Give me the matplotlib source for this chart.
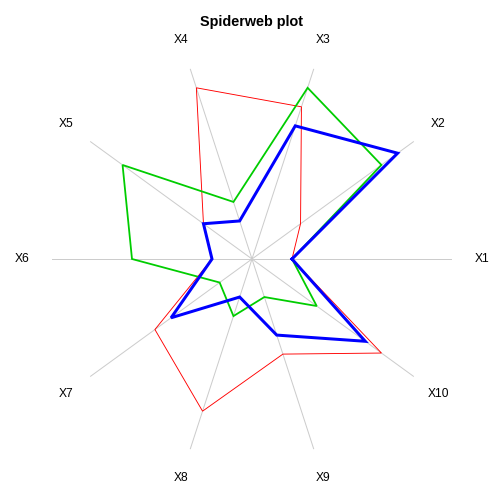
import numpy as np
import matplotlib
matplotlib.use("Agg")
import matplotlib.pyplot as plt

labels = ["X1", "X2", "X3", "X4", "X5", "X6", "X7", "X8", "X9", "X10"]
red_vals = [0.2, 0.3, 0.8, 0.9, 0.3, 0.2, 0.6, 0.8, 0.5, 0.8]
green_vals = [0.2, 0.8, 0.9, 0.3, 0.8, 0.6, 0.2, 0.3, 0.2, 0.4]
blue_vals = [0.2, 0.9, 0.7, 0.2, 0.3, 0.2, 0.5, 0.2, 0.4, 0.7]
title = "Spiderweb plot"

plt.rcParams['font.family'] = ['Liberation Sans', 'DejaVu Sans']

fig = plt.figure(figsize=(7, 7), dpi=72)
cx, cy, R = 252 / 504, 1 - 259 / 504, 200 / 504
ax = fig.add_axes([cx - R, cy - R, 2 * R, 2 * R], projection='polar')
ax.set_ylim(0, 1)
ax.set_axis_off()

n = len(labels)
theta = np.arange(n) * 2 * np.pi / n
for t in theta:
    ax.plot([t, t], [0, 1], color='#CCCCCC', lw=1, zorder=1)
for t, lab in zip(theta, labels):
    ax.text(t, 1.15, lab, ha='center', va='center', fontsize=12, clip_on=False)

th_closed = np.append(theta, theta[0])
for vals, col, lw in [(red_vals, '#FF0000', 0.9), (green_vals, '#00CD00', 1.8), (blue_vals, '#0000FF', 3.0)]:
    v = np.append(vals, vals[0])
    ax.plot(th_closed, v, color=col, lw=lw, zorder=2, solid_joinstyle='miter')

fig.text(0.5, 1 - 22 / 504, title, ha='center', va='center', fontsize=14.4, fontweight='bold')
fig.savefig("out.png", dpi=72)
